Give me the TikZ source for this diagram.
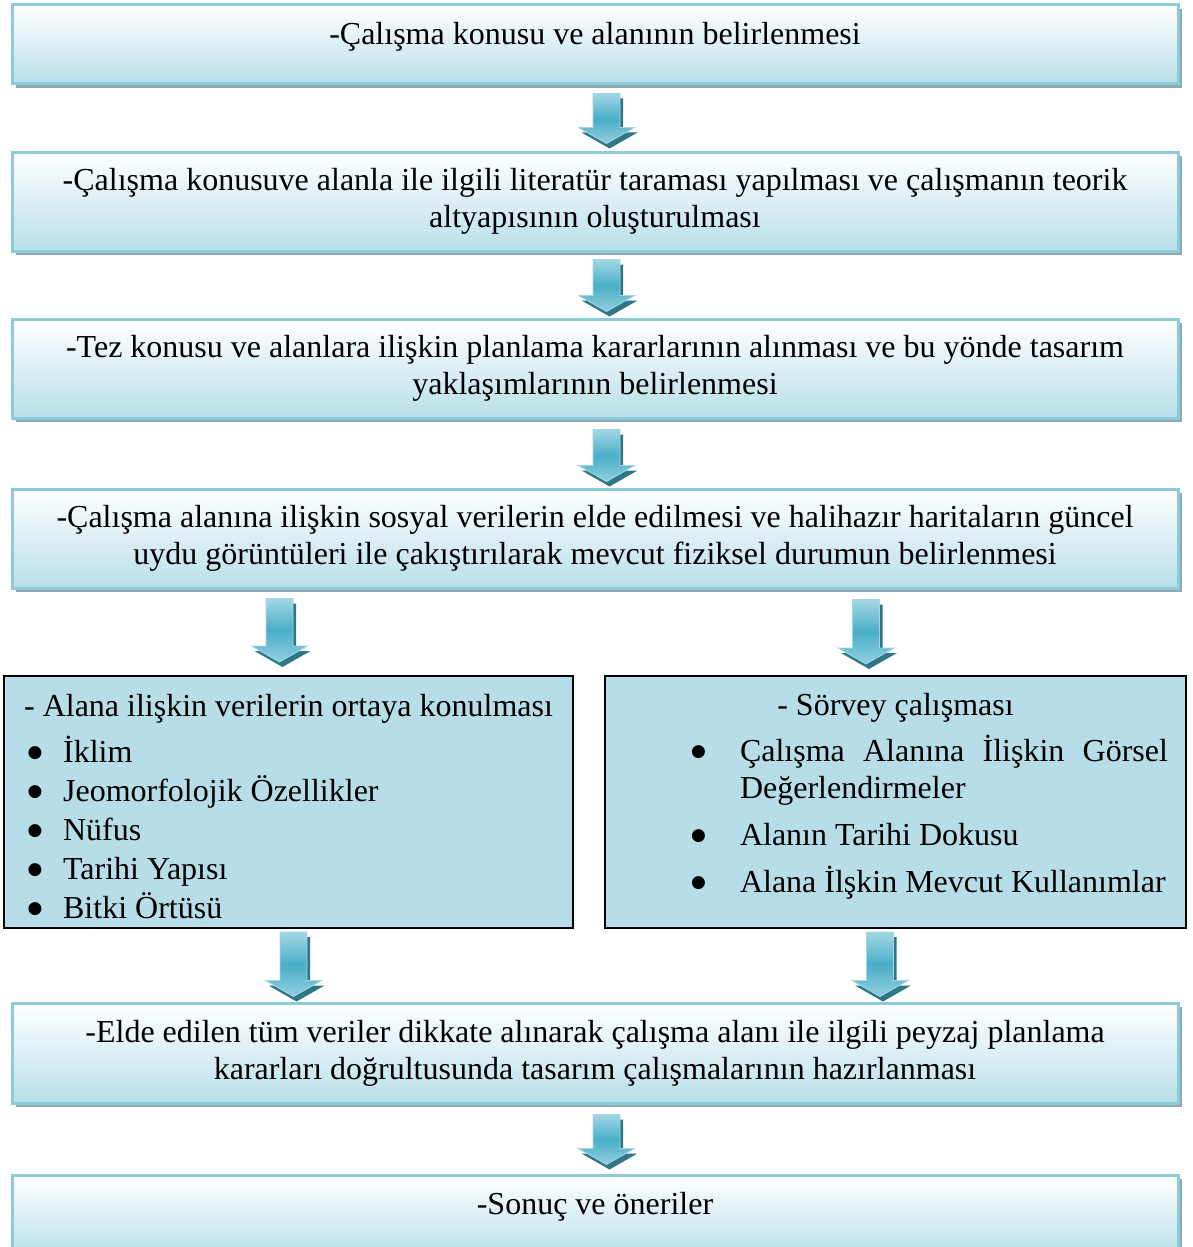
\documentclass[tikz,border=0pt]{standalone}
\usepackage{fontspec}
\setmainfont{Liberation Serif}
\newfontfamily\dotfont{DejaVu Sans}
\usetikzlibrary{calc,shadows}
\hyphenpenalty=10000
\definecolor{boxblue}{HTML}{B9DFE9}
\definecolor{boxedge}{HTML}{8CCBD9}
\definecolor{boxshadow}{HTML}{8FA9B1}
\definecolor{listblue}{HTML}{B7DDE8}
\definecolor{arrowlight}{HTML}{A3D7E4}
\definecolor{arrowmid}{HTML}{4AAEC8}
\definecolor{arrowshade}{HTML}{2F7687}
\newcommand{\bigbul}{\raisebox{2.5pt}{\dotfont\fontsize{8.5}{8.5}\selectfont ●}}
\newcommand{\itembul}{\makebox[19.5pt][l]{\hspace{1.8pt}\bigbul}}
\tikzset{
        basebox/.style={rectangle, inner sep=0pt, align=center, font=\fontsize{16}{18.5}\selectfont},
        % Step boxes
        stepbox/.style={basebox, top color=white, bottom color=boxblue, draw=boxedge, line width=1.5pt,
                minimum width=583pt, drop shadow={shadow xshift=2pt, shadow yshift=-2pt, fill=boxshadow, opacity=1}},
        % One line steps
        oneline/.style={stepbox, minimum height=39.5pt, text height=8pt, text depth=8pt},
        % Two line steps
        twoline/.style={stepbox, minimum height=49.5pt},
        % Data boxes
        listbox/.style={basebox, align=left, fill=listblue, draw=black, line width=1pt, minimum height=126pt},
        % Block arrows
        flowarrow/.style={top color=arrowlight, bottom color=arrowlight!80!arrowmid, middle color=arrowmid,
                draw=arrowlight, line width=0.4pt,
                drop shadow={shadow xshift=1.5pt, shadow yshift=-2.5pt, fill=arrowshade, opacity=1},
                to path={let \p1=(\tikztostart), \p2=(\tikztotarget) in
                        (\x1-6.75pt,\y1) -- (\x1+6.75pt,\y1) -- (\x1+6.75pt,\y2+8pt) -- (\x1+14pt,\y2+8pt)
                        -- (\x1,\y2) -- (\x1-14pt,\y2+8pt) -- (\x1-6.75pt,\y2+8pt) -- cycle}}
}
\begin{document}
\begin{tikzpicture}[x=0.5pt, y=-0.5pt]
    \useasboundingbox (0,0) rectangle (1193,1247);
    \node[oneline] (b1) at (595,44.5) {-Çalışma konusu ve alanının belirlenmesi};
    \node[twoline] (b2) at (595,201.5) {-Çalışma konusuve alanla ile ilgili literatür taraması yapılması ve çalışmanın teorik\\ altyapısının oluşturulması};
    \node[twoline] (b3) at (595,368.5) {-Tez konusu ve alanlara ilişkin planlama kararlarının alınması ve bu yönde tasarım\\ yaklaşımlarının belirlenmesi};
    \node[twoline] (b4) at (595,538.5) {-Çalışma alanına ilişkin sosyal verilerin elde edilmesi ve halihazır haritaların güncel\\ uydu görüntüleri ile çakıştırılarak mevcut fiziksel durumun belirlenmesi};
    \node[listbox, minimum width=284.5pt] (lb) at (288.5,802)
        {\rule{0pt}{16pt}- Alana ilişkin verilerin ortaya konulması\\[4.5pt]
         \itembul İklim\\[1pt]
         \itembul Jeomorfolojik Özellikler\\[1pt]
         \itembul Nüfus\\[1pt]
         \itembul Tarihi Yapısı\\[1pt]
         \itembul Bitki Örtüsü};
    \node[listbox, minimum width=290.5pt] (rb) at (895.5,802)
        {\makebox[290.5pt]{- Sörvey çalışması}\\[4.5pt]
         \hspace*{43pt}\begin{tabular}[t]{@{}p{24.5pt}@{}p{214pt}@{}}
         \bigbul & Çalışma Alanına İlişkin Görsel Değerlendirmeler\\[5pt]
         \bigbul & Alanın Tarihi Dokusu\\[5pt]
         \bigbul & Alana İlşkin Mevcut Kullanımlar\rule[-9pt]{0pt}{9pt}
         \end{tabular}};
    \node[twoline, minimum height=50pt] (b5) at (595,1053) {-Elde edilen tüm veriler dikkate alınarak çalışma alanı ile ilgili peyzaj planlama\\ kararları doğrultusunda tasarım çalışmalarının hazırlanması};
    \node[oneline] (b6) at (595,1214.5) {-Sonuç ve öneriler};
    % arrows between the steps
    \path[flowarrow] ($(b1.south)+(11.5,8)$) to ($(b2.north)+(11.5,-7)$);
    \path[flowarrow] ($(b2.south)+(11.5,7)$) to ($(b3.north)+(11.5,-6)$);
    \path[flowarrow] ($(b3.south)+(11.5,10)$) to ($(b4.north)+(11.5,-6)$);
    \path[flowarrow] ($(b4.south -| lb.north)+(-9,9)$) to ($(lb.north)+(-9,-13)$);
    \path[flowarrow] ($(b4.south -| rb.north)+(-29.5,10)$) to ($(rb.north)+(-29.5,-11)$);
    \path[flowarrow] ($(lb.south)+(5,3)$) to ($(lb.south |- b5.north)+(5,-5)$);
    \path[flowarrow] ($(rb.south)+(-15.5,3)$) to ($(rb.south |- b5.north)+(-15.5,-5)$);
    \path[flowarrow] ($(b5.south)+(11.5,10)$) to ($(b6.north)+(11.5,-9)$);
\end{tikzpicture}
\end{document}
